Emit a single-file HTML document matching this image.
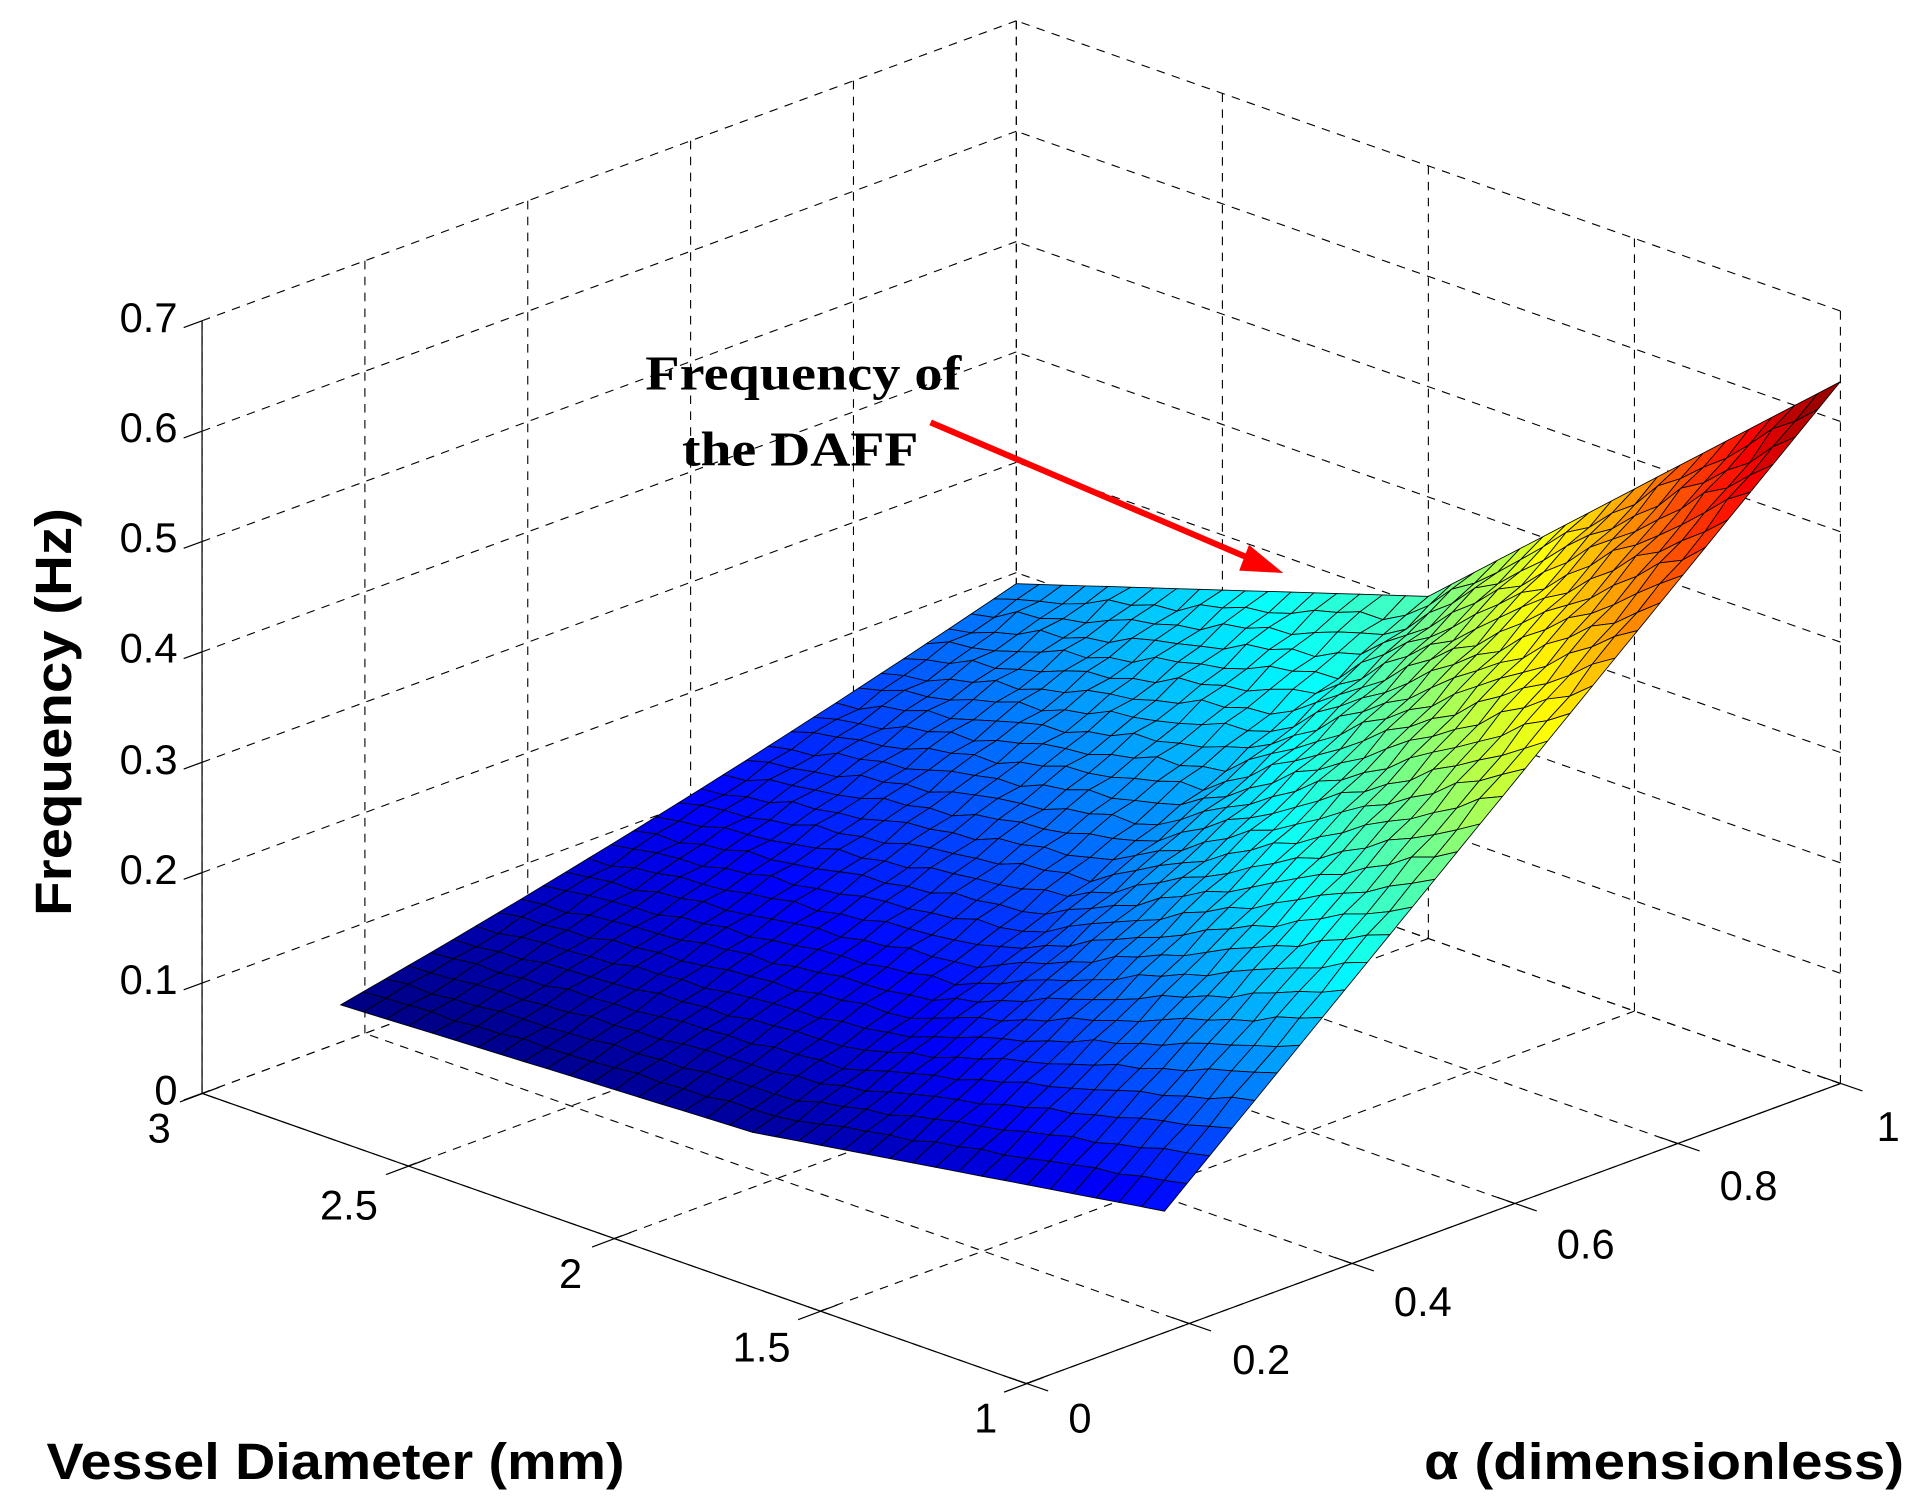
<!DOCTYPE html>
<html><head><meta charset="utf-8"><style>
html,body{margin:0;padding:0;background:#fff;}
svg{display:block;}
</style></head><body>
<svg id="s" width="1920" height="1506" viewBox="0 0 1568 1230" preserveAspectRatio="none" xmlns="http://www.w3.org/2000/svg">
<g id="grid" stroke="#000" stroke-width="0.9" stroke-dasharray="7,6" fill="none"></g>
<g id="surf" stroke="#000" stroke-width="0.7" stroke-linejoin="round"></g>
<g id="axes" stroke="#000" stroke-width="1" fill="none"></g>
<g font-family="Liberation Sans, Arial, sans-serif" font-size="34" fill="#000">
<text x="145" y="262" text-anchor="end" dominant-baseline="middle">0.7</text>
<text x="145" y="352" text-anchor="end" dominant-baseline="middle">0.6</text>
<text x="145" y="442" text-anchor="end" dominant-baseline="middle">0.5</text>
<text x="145" y="532" text-anchor="end" dominant-baseline="middle">0.4</text>
<text x="145" y="623" text-anchor="end" dominant-baseline="middle">0.3</text>
<text x="145" y="713" text-anchor="end" dominant-baseline="middle">0.2</text>
<text x="145" y="803" text-anchor="end" dominant-baseline="middle">0.1</text>
<text x="145" y="893" text-anchor="end" dominant-baseline="middle">0</text>
<text x="130" y="933" text-anchor="middle">3</text>
<text x="285" y="996" text-anchor="middle">2.5</text>
<text x="466" y="1052" text-anchor="middle">2</text>
<text x="622" y="1112" text-anchor="middle">1.5</text>
<text x="805" y="1170" text-anchor="middle">1</text>
<text x="882" y="1170" text-anchor="middle">0</text>
<text x="1030" y="1122" text-anchor="middle">0.2</text>
<text x="1162" y="1075" text-anchor="middle">0.4</text>
<text x="1295" y="1028" text-anchor="middle">0.6</text>
<text x="1428" y="980" text-anchor="middle">0.8</text>
<text x="1542" y="932" text-anchor="middle">1</text>
</g>
<g font-family="Liberation Sans, Arial, sans-serif" font-weight="bold" font-size="42" fill="#000">
<text x="38" y="1208" textLength="472" lengthAdjust="spacingAndGlyphs">Vessel Diameter (mm)</text>
<text x="1163" y="1208" textLength="392" lengthAdjust="spacingAndGlyphs">α (dimensionless)</text>
<text transform="translate(58,748) rotate(-90)" textLength="333" lengthAdjust="spacingAndGlyphs">Frequency (Hz)</text>
</g>
<g font-family="Liberation Serif, Times New Roman, serif" font-weight="bold" font-size="40" fill="#000">
<text x="527" y="318" textLength="258" lengthAdjust="spacingAndGlyphs">Frequency of</text>
<text x="557" y="380" textLength="193" lengthAdjust="spacingAndGlyphs">the DAFF</text>
</g>
<line x1="760" y1="345" x2="1025" y2="458" stroke="#f00" stroke-width="5"/>
<polygon points="1048,468 1020,445 1012,466" fill="#f00"/>
</svg>
<script>
(function(){
var NS="http://www.w3.org/2000/svg";
function P(D,a,z){return [838-336.5*(D-1)+665*a, 1130-118.5*(D-1)-245*a-901.4*z];}
function ln(g,p,q){var l=document.createElementNS(NS,"line");l.setAttribute("x1",p[0].toFixed(1));l.setAttribute("y1",p[1].toFixed(1));l.setAttribute("x2",q[0].toFixed(1));l.setAttribute("y2",q[1].toFixed(1));g.appendChild(l);}
var grid=document.getElementById("grid"),axes=document.getElementById("axes"),surf=document.getElementById("surf");
var Ds=[1,1.5,2,2.5,3],As=[0,0.2,0.4,0.6,0.8,1],Zs=[0,0.1,0.2,0.3,0.4,0.5,0.6,0.7];
As.forEach(function(a){ln(grid,P(3,a,0),P(3,a,0.7));});
Zs.forEach(function(z){ln(grid,P(3,0,z),P(3,1,z));});
Ds.forEach(function(D){ln(grid,P(D,1,0),P(D,1,0.7));});
Zs.forEach(function(z){ln(grid,P(1,1,z),P(3,1,z));});
Ds.forEach(function(D){ln(grid,P(D,0,0),P(D,1,0));});
As.forEach(function(a){ln(grid,P(1,a,0),P(3,a,0));});
ln(axes,P(3,0,0),P(3,0,0.7));
ln(axes,P(1,0,0),P(3,0,0));
ln(axes,P(1,0,0),P(1,1,0));
Zs.forEach(function(z){var p=P(3,0,z);ln(axes,p,[p[0]-15,p[1]+5.5]);});
Ds.forEach(function(D){var p=P(D,0,0);ln(axes,[p[0]+14,p[1]-5],[p[0]-18,p[1]+7]);});
As.forEach(function(a){var p=P(1,a,0);ln(axes,[p[0]-14,p[1]-5],[p[0]+18,p[1]+6]);});
function lerp(x,pts){for(var i=0;i<pts.length-1;i++){if(x<=pts[i+1][0]){var t=(x-pts[i][0])/(pts[i+1][0]-pts[i][0]);return pts[i][1]+t*(pts[i+1][1]-pts[i][1]);}}return pts[pts.length-1][1];}
var a0=0.17;
function zf(D,a,noise){
 var f=lerp(D,[[1,0.11],[2,0.05],[3,0.034]]);
 var g=lerp(D,[[1,0.636],[2,0.31],[3,0.19]]);
 var t=(a-a0)/(1-a0);
 var c=lerp(D,[[1,0.0],[2,0.2],[3,0.2]]);
 var z=f+(g-f)*(t*(1-c)+c*t*t);
 if(noise){var n=Math.sin(D*37.1+a*91.3)*Math.cos(D*13.7-a*51.9);z+=0.003*n*(0.5+t);}
 return z;
}
function jet(v){v=Math.max(0,Math.min(1,v));
 function c(x){return Math.max(0,Math.min(1,x));}
 var r=c(1.5-Math.abs(4*v-3)),g=c(1.5-Math.abs(4*v-2)),b=c(1.5-Math.abs(4*v-1));
 return "rgb("+Math.round(r*255)+","+Math.round(g*255)+","+Math.round(b*255)+")";}
var ND=36,NA=30,Z=[];
for(var i=0;i<=ND;i++){Z[i]=[];for(var j=0;j<=NA;j++){var D=1+2*i/ND,a=a0+(1-a0)*j/NA;var edge=(i==0||i==ND||j==0||j==NA);Z[i][j]=[D,a,zf(D,a,!edge)];}}
var faces=[];
var zmin=0.034,zmax=0.636;
for(var i=0;i<ND;i++)for(var j=0;j<NA;j++){
 var q=[Z[i][j],Z[i+1][j],Z[i+1][j+1],Z[i][j+1]];
 var zm=(q[0][2]+q[1][2]+q[2][2]+q[3][2])/4;
 var depth=(q[0][0]+q[2][0])/2-1+(q[0][1]+q[2][1]);
 faces.push({q:q,zm:zm,d:depth});
}
faces.sort(function(A,B){return B.d-A.d;});
faces.forEach(function(f){
 var pts=f.q.map(function(v){var p=P(v[0],v[1],v[2]);return p[0].toFixed(1)+","+p[1].toFixed(1);}).join(" ");
 var pg=document.createElementNS(NS,"polygon");pg.setAttribute("points",pts);pg.setAttribute("fill",jet((f.zm-zmin)/(zmax-zmin)));surf.appendChild(pg);
});
})();
</script>
</body></html>
